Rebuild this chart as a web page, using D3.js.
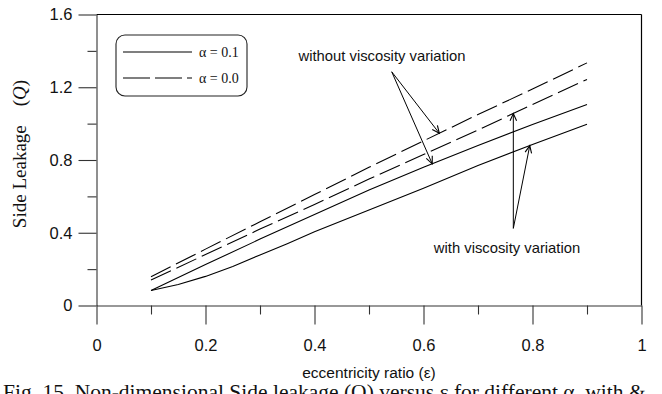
<!DOCTYPE html>
<html>
<head>
<meta charset="utf-8">
<script src="https://cdn.jsdelivr.net/npm/d3@7"></script>
<style>
  html, body { margin: 0; padding: 0; background: #fff; overflow: hidden; }
  svg { display: block; }
</style>
</head>
<body>
<svg id="chart" width="662" height="394"></svg>
<script>
// Eccentricity ratio sample points
const eps = [0.1, 0.2, 0.3, 0.4, 0.5, 0.6, 0.7, 0.8, 0.9];

// Side leakage Q, alpha = 0.0 (dashed)
const qAlpha0Upper = [0.158, 0.31, 0.46, 0.61, 0.76, 0.905, 1.05, 1.19, 1.334];
const qAlpha0Lower = [0.14, 0.28, 0.42, 0.555, 0.695, 0.83, 0.965, 1.105, 1.243];
// Side leakage Q, alpha = 0.1 (solid)
const qAlpha1Upper = [0.082, 0.225, 0.365, 0.50, 0.635, 0.76, 0.88, 0.995, 1.105];
const qAlpha1LowerEps = [0.1, 0.15, 0.2, 0.25, 0.3, 0.35, 0.4, 0.5, 0.6, 0.7, 0.8, 0.9];
const qAlpha1Lower = [0.082, 0.115, 0.16, 0.215, 0.278, 0.34, 0.405, 0.525, 0.645, 0.77, 0.885, 0.997];

const xMajorTicks = [0, 0.2, 0.4, 0.6, 0.8, 1];
const xTickLabels = ["0", "0.2", "0.4", "0.6", "0.8", "1"];
const xMinorTicks = [0.1, 0.3, 0.5, 0.7, 0.9];
const yMajorTicks = [0, 0.4, 0.8, 1.2, 1.6];
const yTickLabels = ["0", "0.4", "0.8", "1.2", "1.6"];
const yMinorTicks = [0.2, 0.6, 1.0, 1.4];

const legendLabels = ["\u03B1 = 0.1", "\u03B1 = 0.0"];

const svg = d3.select("#chart");
const x = d3.scaleLinear().domain([0, 1]).range([96.5, 641.5]);
const y = d3.scaleLinear().domain([0, 1.6]).range([305.5, 14.5]);

const ink = "#000";
const tickFont = "'Liberation Sans', Arial, sans-serif";
const serif = "'Liberation Serif', 'Times New Roman', serif";

// Frame: top and right borders
svg.append("line").attr("x1", x(0)).attr("x2", x(1)).attr("y1", y(1.6)).attr("y2", y(1.6))
  .attr("stroke", ink).attr("stroke-width", 1.2);
svg.append("line").attr("x1", x(1)).attr("x2", x(1)).attr("y1", y(1.6)).attr("y2", y(0))
  .attr("stroke", ink).attr("stroke-width", 1.2);

// Bottom axis
const xAxis = d3.axisBottom(x).tickValues(xMajorTicks).tickSize(19).tickSizeOuter(0)
  .tickFormat((d, i) => xTickLabels[i]).tickPadding(15);
const gx = svg.append("g").attr("transform", `translate(0,${y(0)})`).call(xAxis);
gx.selectAll("text").attr("font-family", tickFont).attr("font-size", 16.5).attr("fill", "#111");
svg.append("g").attr("transform", `translate(0,${y(0)})`)
  .call(d3.axisBottom(x).tickValues(xMinorTicks).tickSize(9).tickFormat(""))
  .call(g => g.select(".domain").remove());

// Left axis
const yAxis = d3.axisLeft(y).tickValues(yMajorTicks).tickSize(18).tickSizeOuter(0)
  .tickFormat((d, i) => yTickLabels[i]).tickPadding(6);
const gy = svg.append("g").attr("transform", `translate(${x(0)},0)`).call(yAxis);
gy.selectAll("text").attr("font-family", tickFont).attr("font-size", 16.5).attr("fill", "#111");
svg.append("g").attr("transform", `translate(${x(0)},0)`)
  .call(d3.axisLeft(y).tickValues(yMinorTicks).tickSize(9).tickFormat(""))
  .call(g => g.select(".domain").remove());

svg.selectAll(".domain, .tick line").attr("stroke", "#333").attr("stroke-width", 1.1);

// Axis titles
svg.append("text")
  .attr("x", x(0.5)).attr("y", 378)
  .attr("text-anchor", "middle")
  .attr("font-family", tickFont).attr("font-size", 15.5).attr("fill", "#111")
  .text("eccentricity ratio (\u03B5)");

const yTitle = svg.append("text")
  .attr("transform", "translate(26,154) rotate(-90)")
  .attr("text-anchor", "middle")
  .attr("font-family", serif).attr("font-size", 19).attr("fill", "#111");
yTitle.append("tspan").text("Side Leakage\u2003(");
yTitle.append("tspan").attr("font-style", "italic").text("Q");
yTitle.append("tspan").text(")");

// Curves
const line = d3.line().x(d => x(d[0])).y(d => y(d[1]));
const series = [
  { xs: eps, ys: qAlpha0Upper, dash: "22,6" },
  { xs: eps, ys: qAlpha0Lower, dash: "22,6" },
  { xs: eps, ys: qAlpha1Upper, dash: null },
  { xs: qAlpha1LowerEps, ys: qAlpha1Lower, dash: null }
];
series.forEach(s => {
  svg.append("path")
    .datum(s.xs.map((e, i) => [e, s.ys[i]]))
    .attr("d", line)
    .attr("fill", "none")
    .attr("stroke", ink)
    .attr("stroke-width", 1.1)
    .attr("stroke-dasharray", s.dash);
});

// Value of a series at a given eccentricity (linear between samples)
function valueAt(s, e) {
  const i = Math.max(1, d3.bisectLeft(s.xs, e));
  const t = (e - s.xs[i - 1]) / (s.xs[i] - s.xs[i - 1]);
  return s.ys[i - 1] + t * (s.ys[i] - s.ys[i - 1]);
}

// Annotation arrows: tail in data space, tip lies on a curve
function arrow(tail, s, eTip) {
  const x1 = x(tail[0]), y1 = y(tail[1]);
  const x2 = x(eTip), y2 = y(valueAt(s, eTip));
  svg.append("line").attr("x1", x1).attr("y1", y1).attr("x2", x2).attr("y2", y2)
    .attr("stroke", ink).attr("stroke-width", 1);
  const a = Math.atan2(y2 - y1, x2 - x1);
  const len = 8, spread = 0.42;
  const p = [
    [x2 - len * Math.cos(a - spread), y2 - len * Math.sin(a - spread)],
    [x2, y2],
    [x2 - len * Math.cos(a + spread), y2 - len * Math.sin(a + spread)]
  ];
  svg.append("path").attr("d", d3.line()(p)).attr("fill", "none")
    .attr("stroke", ink).attr("stroke-width", 1.1);
}

const withoutTail = [0.5417, 1.285];
arrow(withoutTail, series[0], 0.629);
arrow(withoutTail, series[2], 0.616);
const withTail = [0.7648, 0.424];
arrow(withTail, series[1], 0.7648);
arrow(withTail, series[3], 0.795);

svg.append("text").attr("x", 382).attr("y", 61).attr("text-anchor", "middle")
  .attr("font-family", tickFont).attr("font-size", 14.8).attr("fill", "#111")
  .text("without viscosity variation");
svg.append("text").attr("x", 507).attr("y", 253).attr("text-anchor", "middle")
  .attr("font-family", tickFont).attr("font-size", 14.8).attr("fill", "#111")
  .text("with viscosity variation");

// Legend
const lg = svg.append("g");
lg.append("rect").attr("x", 116).attr("y", 35).attr("width", 131).attr("height", 61)
  .attr("rx", 9).attr("ry", 9).attr("fill", "#fff").attr("stroke", "#222").attr("stroke-width", 1.1);
[null, "27,5"].forEach((dash, i) => {
  const ly = 52 + i * 26;
  lg.append("line").attr("x1", 123).attr("x2", 192).attr("y1", ly).attr("y2", ly)
    .attr("stroke", ink).attr("stroke-width", 1.1).attr("stroke-dasharray", dash);
  lg.append("text").attr("x", 199).attr("y", ly + 5)
    .attr("font-family", serif).attr("font-size", 14).attr("fill", "#111")
    .text(legendLabels[i]);
});

// Caption
svg.append("text").attr("x", 3).attr("y", 399)
  .attr("font-family", serif).attr("font-size", 21.5).attr("fill", "#111")
  .text("Fig. 15. Non-dimensional Side leakage (Q) versus \u03B5 for different \u03B1, with &");
</script>
</body>
</html>
